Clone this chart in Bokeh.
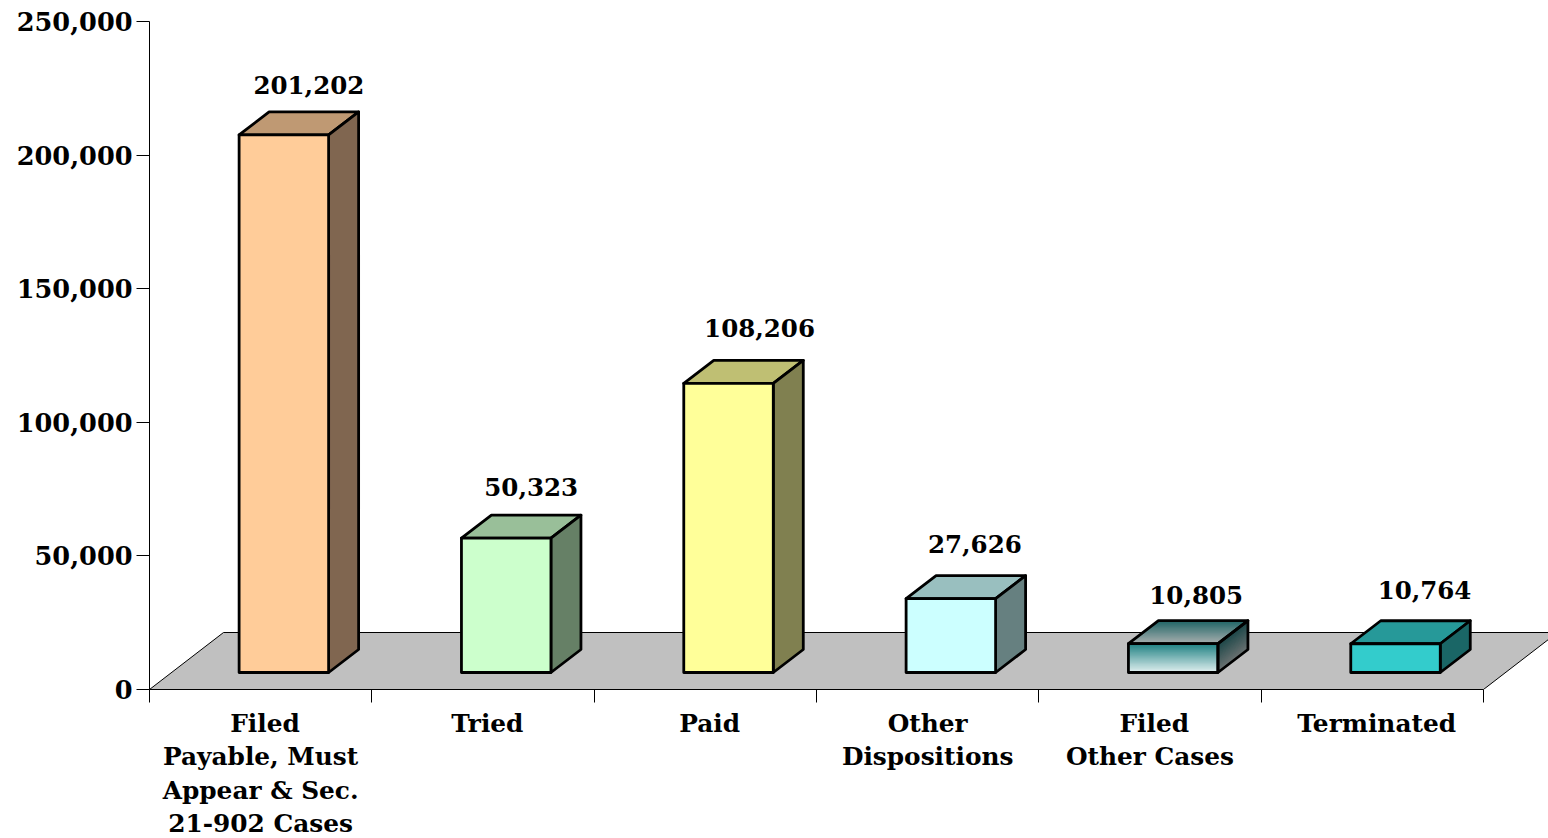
from bokeh.plotting import figure
from bokeh.models import ColumnDataSource, FixedTicker, NumeralTickFormatter
from bokeh.core.properties import value
from bokeh.embed import file_html
from bokeh.resources import INLINE

categories = ["\u00a0Filed\nPayable, Must\nAppear & Sec.\n21-902 Cases", "\u00a0Tried", "\u00a0Paid",
              "Other\nDispositions", "\u00a0Filed\nOther Cases", "\u00a0Terminated"]
counts = [201202, 50323, 108206, 27626, 10805, 10764]
y_ticks = [0, 50000, 100000, 150000, 200000, 250000]

front_colors = ["#FFCC99", "#CCFFCC", "#FFFF99", "#CCFFFF", None, "#33CCCC"]
top_colors = ["#BF9973", "#99BF99", "#BFBF73", "#99BFBF", None, "#269999"]
side_colors = ["#806650", "#668066", "#808050", "#668080", None, "#1A6666"]
grad_front = ("#1E8082", "#E2F0F0")
grad_top = ("#1F6465", "#A8AFAF")
grad_side = ("#1C4748", "#6C7272")
label_dx = [25, 25, 31, 24, 23, 29]
label_dy = [50, 51, 55, 55, 49, 54]

FONT = "DejaVu Serif"
PX_X = 222.33
PX_Y = 668 / 250000
bar_w = 89.5 / PX_X
shift = 23.2 / PX_X
base = 17 / PX_Y
dx = 30 / PX_X
dy = 23 / PX_Y
floor_dx = 74 / PX_X
floor_dy = 57 / PX_Y

p = figure(frame_width=1399, frame_height=668, output_backend="svg", toolbar_location=None,
           x_range=(0, 1399 / PX_X), y_range=(0, 250000),
           min_border_left=149, min_border_right=0, min_border_top=21, min_border_bottom=149,
           outline_line_color=None, background_fill_color=None, border_fill_color=None)
p.grid.visible = False

# Y axis
ya = p.yaxis[0]
ya.ticker = FixedTicker(ticks=y_ticks)
ya.formatter = NumeralTickFormatter(format="0,0")
ya.axis_line_color = "black"
ya.major_tick_line_color = "black"
ya.major_tick_in = 0
ya.major_tick_out = 13
ya.minor_tick_line_color = None
ya.major_label_standoff = 4
ya.major_label_text_font = FONT
ya.major_label_text_font_style = "bold"
ya.major_label_text_font_size = "25.6px"
ya.major_label_text_color = "black"

# X axis: labels between ticks
xa = p.xaxis[0]
xa.ticker = FixedTicker(ticks=[i + 0.5 for i in range(6)], minor_ticks=list(range(7)))
xa.major_label_overrides = {i + 0.5: c for i, c in enumerate(categories)}
xa.bounds = (0, 6)
xa.axis_line_color = "black"
xa.major_tick_line_color = None
xa.major_tick_in = 0
xa.major_tick_out = 0
xa.minor_tick_line_color = "black"
xa.minor_tick_in = 0
xa.minor_tick_out = 13
xa.major_label_standoff = 6
xa.major_label_text_font = FONT
xa.major_label_text_font_style = "bold"
xa.major_label_text_font_size = "24.8px"
xa.major_label_text_color = "black"
xa.major_label_text_line_height = 1.16

# Floor
p.patch([0, 6, 6 + floor_dx, floor_dx], [0, 0, floor_dy, floor_dy],
        fill_color="#C0C0C0", line_color="black", line_width=1)


def lerp(a, b, t):
    ca = [int(a[i:i + 2], 16) for i in (1, 3, 5)]
    cb = [int(b[i:i + 2], 16) for i in (1, 3, 5)]
    return "#%02X%02X%02X" % tuple(round(x + (y - x) * t) for x, y in zip(ca, cb))


LW = 2.8
N = 24
for i, v in enumerate(counts):
    l = i + 0.5 + shift - bar_w / 2
    r = l + bar_w
    b = base
    t = base + v
    if front_colors[i] is None:
        # gradient-filled box: each strip runs to the end of the face, so no seams show
        for k in range(N):
            a0 = k / N
            p.quad(left=l, right=r, top=t - (t - b) * a0, bottom=b,
                   fill_color=lerp(*grad_front, (k + .5) / N), line_color=None)
            p.patch([l + dx * (1 - a0), r + dx * (1 - a0), r, l],
                    [t + dy * (1 - a0), t + dy * (1 - a0), t, t],
                    fill_color=lerp(*grad_top, (k + .5) / N), line_color=None)
            p.patch([r, r + dx, r + dx, r],
                    [t - (t - b) * a0, t + dy - (t - b) * a0, b + dy, b],
                    fill_color=lerp(*grad_side, (k + .5) / N), line_color=None)
        fc = tc = sc = None
    else:
        fc, tc, sc = front_colors[i], top_colors[i], side_colors[i]
    p.patch([l, r, r + dx, l + dx], [t, t, t + dy, t + dy], fill_color=tc, fill_alpha=1 if tc else 0,
            line_color="black", line_width=LW, line_join="round")
    p.patch([r, r + dx, r + dx, r], [b, b + dy, t + dy, t], fill_color=sc, fill_alpha=1 if sc else 0,
            line_color="black", line_width=LW, line_join="round")
    p.quad(left=l, right=r, top=t, bottom=b, fill_color=fc, fill_alpha=1 if fc else 0,
           line_color="black", line_width=LW, line_join="round")

# Value labels
src = ColumnDataSource(dict(
    x=[i + 0.5 + shift for i in range(6)],
    y=[base + v for v in counts],
    text=[f"{v:,}" for v in counts],
    xo=label_dx,
    yo=[-d for d in label_dy],
))
p.text(x="x", y="y", text="text", x_offset="xo", y_offset="yo", source=src,
       text_font=value(FONT), text_font_style="bold", text_font_size="24.5px",
       text_color="black", text_align="center", text_baseline="alphabetic")

open("out.html", "w").write(file_html(p, INLINE))
